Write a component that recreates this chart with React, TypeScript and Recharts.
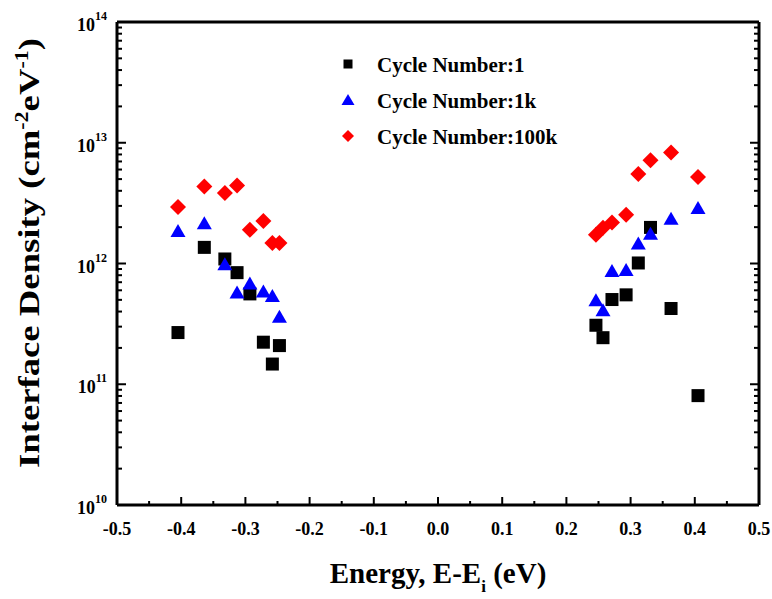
import React from 'react';
import { ScatterChart, Scatter, XAxis, YAxis, Legend } from 'recharts';

// energy positions shared by all three measurements (eV)
const energy = [
  -0.405, -0.364, -0.332, -0.313, -0.293, -0.272, -0.258, -0.247,
  0.246, 0.257, 0.271, 0.293, 0.312, 0.331, 0.363, 0.405,
];

// interface trap density, cm^-2 eV^-1
const cycle1 = [
  2.68e11, 1.36e12, 1.09e12, 8.4e11, 5.6e11, 2.23e11, 1.47e11, 2.09e11,
  3.08e11, 2.43e11, 5.03e11, 5.5e11, 1.01e12, 1.99e12, 4.24e11, 8.05e10,
];
const cycle1k = [
  1.84e12, 2.13e12, 9.75e11, 5.69e11, 6.75e11, 5.8e11, 5.33e11, 3.59e11,
  4.91e11, 4.07e11, 8.59e11, 8.75e11, 1.45e12, 1.75e12, 2.33e12, 2.86e12,
];
const cycle100k = [
  2.94e12, 4.35e12, 3.84e12, 4.43e12, 1.9e12, 2.25e12, 1.48e12, 1.48e12,
  1.73e12, 1.98e12, 2.19e12, 2.53e12, 5.51e12, 7.15e12, 8.32e12, 5.2e12,
];

const seriesNames = ['Cycle Number:1', 'Cycle Number:1k', 'Cycle Number:100k'];

const xMajor = [-0.5, -0.4, -0.3, -0.2, -0.1, 0, 0.1, 0.2, 0.3, 0.4, 0.5];
const xMinor = [-0.45, -0.35, -0.25, -0.15, -0.05, 0.05, 0.15, 0.25, 0.35, 0.45];
const yMajor = [1e10, 1e11, 1e12, 1e13, 1e14];

const SERIF = { fontFamily: 'Liberation Serif', fontWeight: 'bold' as const };

const PLOT_LEFT = 117;
const PLOT_RIGHT = 759;
const PLOT_TOP = 22;
const PLOT_BOTTOM = 505;

const toPoints = (vals: number[]) => vals.map((v, i) => ({ e: energy[i], d: v }));

const yMinor: number[] = [];
yMajor.slice(0, -1).forEach((dec) => {
  for (let m = 2; m <= 9; m++) yMinor.push(dec * m);
});
const yTicks = [...yMajor, ...yMinor].sort((a, b) => a - b);
const xTicks = [...xMajor, ...xMinor].sort((a, b) => a - b);

const isMajorX = (v: number) => xMajor.some((m) => Math.abs(m - v) < 1e-9);
const isMajorY = (v: number) => yMajor.some((m) => Math.abs(m - v) / m < 1e-9);

const BottomTick = ({ x, y, payload }: any) => {
  const major = isMajorX(payload.value);
  return (
    <g>
      <line x1={x} x2={x} y1={y} y2={y - (major ? 8 : 4)} stroke="#000" strokeWidth={2} />
      {major && (
        <text x={x} y={y + 30} textAnchor="middle" style={SERIF} fontSize={18} fill="#000">
          {payload.value.toFixed(1)}
        </text>
      )}
    </g>
  );
};

const TopTick = ({ x, y }: any) => (
  <line x1={x} x2={x} y1={y} y2={y + 3} stroke="#999" strokeWidth={1} />
);

const LeftTick = ({ x, y, payload }: any) => {
  const major = isMajorY(payload.value);
  const exp = Math.round(Math.log10(payload.value));
  return (
    <g>
      <line x1={x} x2={x + (major ? 9 : 5)} y1={y} y2={y} stroke="#000" strokeWidth={2} />
      {major && (
        <text x={x - 10} y={y + 9} textAnchor="end" style={SERIF} fontSize={18} fill="#000">
          10
          <tspan fontSize={12} dy={-11}>{exp}</tspan>
        </text>
      )}
    </g>
  );
};

const RightTick = ({ x, y, payload }: any) => {
  const major = isMajorY(payload.value);
  return <line x1={x} x2={x - (major ? 9 : 5)} y1={y} y2={y} stroke="#000" strokeWidth={2} />;
};

const SquareDot = ({ cx, cy }: any) => (
  <rect x={cx - 6.5} y={cy - 6.5} width={13} height={13} fill="#000000" />
);
const TriangleDot = ({ cx, cy }: any) => (
  <polygon points={`${cx},${cy - 7.5} ${cx + 7.5},${cy + 5.5} ${cx - 7.5},${cy + 5.5}`} fill="#0000ff" />
);
const DiamondDot = ({ cx, cy }: any) => (
  <polygon points={`${cx},${cy - 8} ${cx + 8},${cy} ${cx},${cy + 8} ${cx - 8},${cy}`} fill="#ff0000" />
);

const legendMarker = (i: number, cx: number, cy: number) => {
  if (i === 0) return <rect x={cx - 4.5} y={cy - 4.5} width={9} height={9} fill="#000000" />;
  if (i === 1)
    return <polygon points={`${cx},${cy - 6} ${cx + 6.5},${cy + 5} ${cx - 6.5},${cy + 5}`} fill="#0000ff" />;
  return <polygon points={`${cx},${cy - 6} ${cx + 6},${cy} ${cx},${cy + 6} ${cx - 6},${cy}`} fill="#ff0000" />;
};

// legend wrapper sits at (335, 50)
const renderLegend = () => (
  <svg width={240} height={100}>
    {seriesNames.map((name, i) => (
      <g key={name}>
        {legendMarker(i, 13, 14 + i * 36)}
        <text x={42} y={22 + i * 36} style={SERIF} fontSize={21} fill="#000">
          {name}
        </text>
      </g>
    ))}
  </svg>
);

const XLabel = () => (
  <text x={(PLOT_LEFT + PLOT_RIGHT) / 2} y={583} textAnchor="middle" style={SERIF} fontSize={29} fill="#000">
    Energy, E-E
    <tspan fontSize={17} dy={9}>i</tspan>
    <tspan dy={-9}> (eV)</tspan>
  </text>
);

const YLabel = () => (
  <text
    transform="translate(39, 253) rotate(-90)"
    textAnchor="middle"
    style={SERIF}
    fontSize={30}
    textLength={430}
    lengthAdjust="spacingAndGlyphs"
    fill="#000"
  >
    Interface Density (cm
    <tspan fontSize={18} dy={-11}>-2</tspan>
    <tspan dy={11}>eV</tspan>
    <tspan fontSize={18} dy={-11}>-1</tspan>
    <tspan dy={11}>)</tspan>
  </text>
);

export default function App() {
  return (
    <div style={{ position: 'absolute', left: 0, top: 0, background: '#fff' }}>
      <ScatterChart width={772} height={599} margin={{ top: 0, right: 0, bottom: 0, left: 0 }}>
        <XAxis
          xAxisId="bottom"
          dataKey="e"
          type="number"
          domain={[-0.5, 0.5]}
          ticks={xTicks}
          interval={0}
          orientation="bottom"
          height={599 - PLOT_BOTTOM}
          axisLine={{ stroke: '#000', strokeWidth: 3 }}
          tickLine={false}
          tickSize={0}
          tickMargin={0}
          tick={<BottomTick />}
          label={<XLabel />}
        />
        <XAxis
          xAxisId="top"
          dataKey="e"
          type="number"
          domain={[-0.5, 0.5]}
          ticks={xTicks}
          interval={0}
          orientation="top"
          height={PLOT_TOP}
          axisLine={{ stroke: '#000', strokeWidth: 3 }}
          tickLine={false}
          tickSize={0}
          tickMargin={0}
          tick={<TopTick />}
        />
        <YAxis
          yAxisId="left"
          dataKey="d"
          type="number"
          scale="log"
          domain={[1e10, 1e14]}
          allowDataOverflow
          ticks={yTicks}
          interval={0}
          orientation="left"
          width={PLOT_LEFT}
          axisLine={{ stroke: '#000', strokeWidth: 3 }}
          tickLine={false}
          tickSize={0}
          tickMargin={0}
          tick={<LeftTick />}
          label={<YLabel />}
        />
        <YAxis
          yAxisId="right"
          dataKey="d"
          type="number"
          scale="log"
          domain={[1e10, 1e14]}
          allowDataOverflow
          ticks={yTicks}
          interval={0}
          orientation="right"
          width={772 - PLOT_RIGHT}
          axisLine={{ stroke: '#000', strokeWidth: 3 }}
          tickLine={false}
          tickSize={0}
          tickMargin={0}
          tick={<RightTick />}
        />
        <Legend
          content={renderLegend}
          layout="vertical"
          align="center"
          verticalAlign="middle"
          wrapperStyle={{ position: 'absolute', left: 335, top: 50, width: 240 }}
        />
        <Scatter
          name={seriesNames[0]}
          data={toPoints(cycle1)}
          xAxisId="bottom"
          yAxisId="left"
          fill="#000000"
          shape={<SquareDot />}
          isAnimationActive={false}
        />
        <Scatter
          name={seriesNames[1]}
          data={toPoints(cycle1k)}
          xAxisId="bottom"
          yAxisId="left"
          fill="#0000ff"
          shape={<TriangleDot />}
          isAnimationActive={false}
        />
        <Scatter
          name={seriesNames[2]}
          data={toPoints(cycle100k)}
          xAxisId="bottom"
          yAxisId="left"
          fill="#ff0000"
          shape={<DiamondDot />}
          isAnimationActive={false}
        />
      </ScatterChart>
    </div>
  );
}
